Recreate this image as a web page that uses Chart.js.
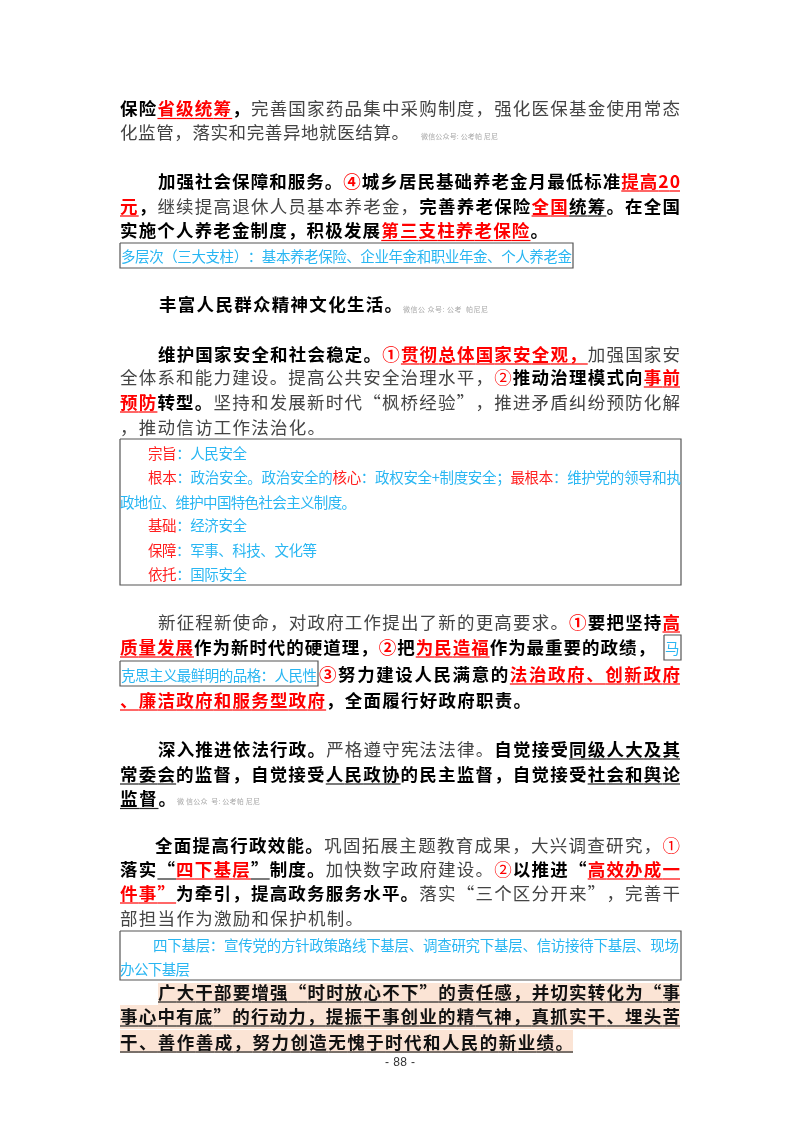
<!DOCTYPE html>
<html lang="zh-CN">
<head>
<meta charset="utf-8">
<style>
  html, body { margin: 0; padding: 0; background: #fff; }
  canvas { display: block; }
</style>
</head>
<body>
<canvas id="page" width="800" height="1132"></canvas>
<script src="https://cdn.jsdelivr.net/npm/chart.js@4"></script>
<script>
// text runs per line: [text, style key]
const lineRuns = [
  [["保险", "b"], ["省级统筹", "r"], ["，", "b"], ["完善国家药品集中采购制度，强化医保基金使用常态", "n"]],
  [["化监管，落实和完善异地就医结算。", "n"]],
  [["微信公众号: 公考帕 尼尼", "w"]],
  [["加强社会保障和服务。", "b"], ["④", "d"], ["城乡居民基础养老金月最低标准", "b"], ["提高20", "r"]],
  [["元", "r"], ["，", "b"], ["继续提高退休人员基本养老金，", "n"], ["完善养老保险", "b"], ["全国", "r"], ["统筹", "u"], ["。在全国", "b"]],
  [["实施个人养老金制度，积极发展", "b"], ["第三支柱养老保险", "r"], ["。", "b"]],
  [["多层次（三大支柱）：基本养老保险、企业年金和职业年金、个人养老金", "t"]],
  [["丰富人民群众精神文化生活。", "b"]],
  [["微信公 众号: 公考  帕尼尼", "w"]],
  [["维护国家安全和社会稳定。", "b"], ["①", "d"], ["贯彻总体国家安全观，", "r"], ["加强国家安", "n"]],
  [["全体系和能力建设。提高公共安全治理水平，", "n"], ["②", "c"], ["推动治理模式向", "b"], ["事前", "r"]],
  [["预防", "r"], ["转型。", "b"], ["坚持和发展新时代“枫桥经验”，推进矛盾纠纷预防化解", "n"]],
  [["，推动信访工作法治化。", "n"]],
  [["宗旨", "s"], ["：人民安全", "t"]],
  [["根本", "s"], ["：政治安全。政治安全的", "t"], ["核心", "s"], ["：政权安全+制度安全；", "t"], ["最根本", "s"], ["：维护党的领导和执", "t"]],
  [["政地位、维护中国特色社会主义制度。", "t"]],
  [["基础", "s"], ["：经济安全", "t"]],
  [["保障", "s"], ["：军事、科技、文化等", "t"]],
  [["依托", "s"], ["：国际安全", "t"]],
  [["新征程新使命，对政府工作提出了新的更高要求。", "n"], ["①", "d"], ["要把坚持", "b"], ["高", "r"]],
  [["质量发展", "r"], ["作为新时代的硬道理，", "b"], ["②", "d"], ["把", "b"], ["为民造福", "r"], ["作为最重要的政绩，", "b"]],
  [["马", "t"]],
  [["克思主义最鲜明的品格：人民性", "t"]],
  [["③", "d"], ["努力建设人民满意的", "b"], ["法治政府、创新政府", "r"]],
  [["、廉洁政府和服务型政府", "r"], ["，全面履行好政府职责。", "b"]],
  [["深入推进依法行政。", "b"], ["严格遵守宪法法律。", "n"], ["自觉接受", "b"], ["同级人大及其", "u"]],
  [["常委会", "u"], ["的监督，自觉接受", "b"], ["人民政协", "u"], ["的民主监督，自觉接受", "b"], ["社会和舆论", "u"]],
  [["监督", "u"], ["。", "b"]],
  [["微 信公众  号: 公考帕 尼尼", "w"]],
  [["全面提高行政效能。", "b"], ["巩固拓展主题教育成果，大兴调查研究，", "n"], ["①", "c"]],
  [["落实", "b"], ["“", "u"], ["四下基层", "r"], ["”", "u"], ["制度。", "b"], ["加快数字政府建设。", "n"], ["②", "c"], ["以推进“", "b"], ["高效办成一", "r"]],
  [["件事”", "r"], ["为牵引，提高政务服务水平。", "b"], ["落实“三个区分开来”，完善干", "n"]],
  [["部担当作为激励和保护机制。", "n"]],
  [["四下基层：宣传党的方针政策路线下基层、调查研究下基层、信访接待下基层、现场", "t"]],
  [["办公下基层", "t"]],
  [["广大干部要增强“时时放心不下”的责任感，并切实转化为“事", "h"]],
  [["事心中有底”的行动力，提振干事创业的精气神，真抓实干、埋头苦", "h"]],
  [["干、善作善成，努力创造无愧于时代和人民的新业绩。", "h"]],
  [["- 88 -", "p"]]
];

// where each line sits: left edge, right edge, middle height
const lineSpots = [
  [120, 680, 108.5], [120, 409, 132], [421, 498, 136],
  [158, 680, 181], [120, 680, 206], [120, 548, 230.5],
  [121, 572, 256],
  [159, 402, 304], [403, 488, 309],
  [158, 680, 354], [120, 680, 377], [120, 680, 402], [120, 325, 427],
  [148, 247, 453], [148, 681, 477], [120, 356, 502], [148, 247, 525], [148, 317, 550], [148, 247, 574],
  [158, 680, 622], [120, 655, 647], [665, 680, 648], [121, 317, 675], [319, 680, 674], [120, 531, 700],
  [158, 680, 749], [120, 680, 774], [120, 176, 798.5], [177, 260, 801],
  [155, 680, 845], [120, 680, 869], [120, 680, 893], [120, 363, 918],
  [153, 679, 945], [120, 190, 969],
  [158, 680, 992], [120, 680, 1016], [120, 573, 1042],
  [385, 415, 1063]
];

// framed notes: left, top, right, bottom
const noteBoxes = [
  [120, 243, 573, 268],
  [120, 439, 681, 585],
  [664, 635, 681, 660],
  [120, 661, 318, 686],
  [120, 931, 681, 980]
];

// shaded closing paragraph: left, top, right, bottom
const shadeBands = [
  [158, 983, 680, 1005],
  [120, 1005, 680, 1029],
  [120, 1030, 573, 1053]
];

const BODY = '"Noto Sans CJK SC", sans-serif';
const runStyles = {
  n: { font: "400 17.5px " + BODY, color: "#444444" },
  b: { font: "700 17.5px " + BODY, color: "#000000" },
  r: { font: "700 17.5px " + BODY, color: "#ff0000", line: "#ff0000" },
  u: { font: "700 17.5px " + BODY, color: "#000000", line: "#222222" },
  h: { font: "700 17.5px " + BODY, color: "#111111", line: "#222222" },
  c: { font: "400 17.5px " + BODY, color: "#ff0000" },
  d: { font: "700 17.5px " + BODY, color: "#ff0000" },
  t: { font: "400 14.5px " + BODY, color: "#29b6f2" },
  s: { font: "400 14.5px " + BODY, color: "#ff2020" },
  w: { font: "400 7px " + BODY, color: "#a8a8a8" },
  p: { font: '400 12px "Liberation Sans", sans-serif', color: "#333333" }
};

// lays each line out glyph by glyph so it fills its width like justified text
const pageText = {
  id: "pageText",
  beforeDatasetsDraw(chart) {
    const { ctx, scales: { x, y } } = chart;
    ctx.save();
    ctx.fillStyle = "#fbe4d5";
    shadeBands.forEach(([l, t, r, b]) => {
      const top = y.getPixelForValue(t);
      ctx.fillRect(x.getPixelForValue(l), top, x.getPixelForValue(r) - x.getPixelForValue(l), y.getPixelForValue(b) - top);
    });
    ctx.restore();
  },
  afterDatasetsDraw(chart) {
    const { ctx, scales: { x, y } } = chart;
    ctx.save();
    ctx.textBaseline = "middle";
    ctx.textAlign = "left";
    lineRuns.forEach((runs, i) => {
      const [left, right, mid] = lineSpots[i];
      const glyphs = [];
      runs.forEach(([text, key]) => {
        ctx.font = runStyles[key].font;
        Array.from(text).forEach(ch => glyphs.push({ ch, key, w: ctx.measureText(ch).width }));
      });
      const x0 = x.getPixelForValue(left);
      const x1 = x.getPixelForValue(right);
      const yMid = y.getPixelForValue(mid);
      const natural = glyphs.reduce((s, g) => s + g.w, 0);
      const gap = glyphs.length > 1 ? (x1 - x0 - natural) / (glyphs.length - 1) : 0;
      let pen = x0;
      glyphs.forEach((g, j) => {
        const st = runStyles[g.key];
        ctx.font = st.font;
        ctx.fillStyle = st.color;
        ctx.fillText(g.ch, pen, yMid);
        const next = pen + g.w + (j < glyphs.length - 1 ? gap : 0);
        if (st.line) {
          ctx.strokeStyle = st.line;
          ctx.lineWidth = 1.2;
          ctx.beginPath();
          ctx.moveTo(pen, yMid + 10);
          ctx.lineTo(next, yMid + 10);
          ctx.stroke();
        }
        pen = next;
      });
    });
    ctx.restore();
  }
};

// the note frames are closed line datasets, one per box
const frameSets = noteBoxes.map(([l, t, r, b]) => ({
  data: [{ x: l, y: t }, { x: r, y: t }, { x: r, y: b }, { x: l, y: b }, { x: l, y: t }],
  showLine: true,
  borderColor: "#555555",
  borderWidth: 1.2,
  pointRadius: 0,
  tension: 0
}));

new Chart(document.getElementById("page"), {
  type: "scatter",
  data: { datasets: frameSets },
  options: {
    responsive: false,
    animation: false,
    devicePixelRatio: 1,
    layout: { padding: 0 },
    plugins: { legend: { display: false }, tooltip: { enabled: false } },
    scales: {
      x: { type: "linear", min: 0, max: 800, display: false },
      y: { type: "linear", min: 0, max: 1132, reverse: true, display: false }
    }
  },
  plugins: [pageText]
});
</script>
</body>
</html>
